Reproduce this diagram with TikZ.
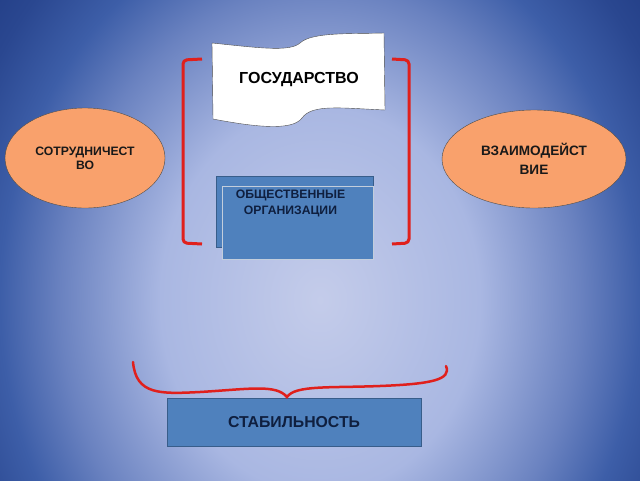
\documentclass[tikz,border=0pt]{standalone}
\usepackage{fontspec}
\setmainfont{Liberation Sans}
\usetikzlibrary{shapes.geometric,positioning}
\definecolor{bgin}{HTML}{C4CCEA}
\definecolor{bgmid}{HTML}{A9B7E2}
\definecolor{bgmid2}{HTML}{6A82C0}
\definecolor{bgmid3}{HTML}{3D5EA8}
\definecolor{bgmid4}{HTML}{2A4790}
\definecolor{bgout}{HTML}{1F3A82}
\definecolor{ovalfill}{HTML}{F9A16C}
\definecolor{boxfill}{HTML}{4F81BD}
\definecolor{boxline}{HTML}{385D8A}
\definecolor{txtdark}{HTML}{0F1F3F}
\definecolor{brkred}{HTML}{E0201C}
\pgfdeclareradialshading{slidebg}{\pgfpoint{0bp}{0bp}}{color(0bp)=(bgin); color(8bp)=(bgmid); color(13bp)=(bgmid2); color(16bp)=(bgmid3); color(19bp)=(bgmid4); color(22bp)=(bgout); color(50bp)=(bgout)}
\begin{document}
\begin{tikzpicture}[x=1pt,y=-1pt,
  oval/.style={ellipse,draw=gray!60!black,fill=ovalfill,inner sep=0pt,align=center,text=black!90},
  bbox/.style={rectangle,draw=boxline,fill=boxfill,inner sep=0pt},
  brk/.style={draw=brkred,line width=3pt,rounded corners=4pt}]
\useasboundingbox (0,0) rectangle (640,480);
\begin{scope}
\clip (0,0) rectangle (640,480);
\shade[shading=slidebg] (320,300) ellipse [x radius=500pt,y radius=600pt];
\end{scope}
\node[oval,minimum width=160pt,minimum height=100pt,font=\bfseries\fontsize{12.2}{14}\selectfont](coop) at (85,158){СОТРУДНИЧЕСТ\\ВО};
\node[oval,minimum width=184pt,minimum height=98pt,font=\bfseries\fontsize{13.6}{19}\selectfont](inter) at (534,159){ВЗАИМОДЕЙСТ\\ВИЕ};
\draw[gray!60!black,fill=white] (212,43) .. controls (260,48) and (290,52) .. (300,43) .. controls (312,32) and (350,34) .. (384,33) -- (385,110) .. controls (340,108) and (312,104) .. (302,118) .. controls (292,132) and (250,126) .. (213,119) -- cycle;
\node[font=\bfseries\fontsize{16}{18}\selectfont](gos) at (299,80){ГОСУДАРСТВО};
\draw[brk] (202,59) -- (183,60) -- (183,243) -- (202,244);
\draw[brk] (392,59) -- (409,60) -- (409,243) -- (392,244);
\node[bbox,minimum width=157pt,minimum height=71pt](back) at (294.5,211.5){};
\node[bbox,draw=white!70!boxline,minimum width=151pt,minimum height=73pt](front)[below right=10pt and 6pt of back.north west]{};
\node[font=\bfseries\fontsize{12.2}{16}\selectfont,text=txtdark,align=center,inner sep=0pt](org)[below=4pt of front.north,xshift=-7pt]{ОБЩЕСТВЕННЫЕ\\ОРГАНИЗАЦИИ};
\node[bbox,minimum width=254pt,minimum height=48pt,font=\bfseries\fontsize{15.8}{18}\selectfont,text=txtdark](stab) at (294,422){СТАБИЛЬНОСТЬ};
\draw[brkred,line width=2.5pt,line cap=round] (133,362) .. controls (136,395) and (160,394) .. (200,392) .. controls (250,389) and (276,384) .. (287,397) .. controls (295,385) and (330,388) .. (380,386) .. controls (430,384) and (452,380) .. (446,366);
\end{tikzpicture}
\end{document}
